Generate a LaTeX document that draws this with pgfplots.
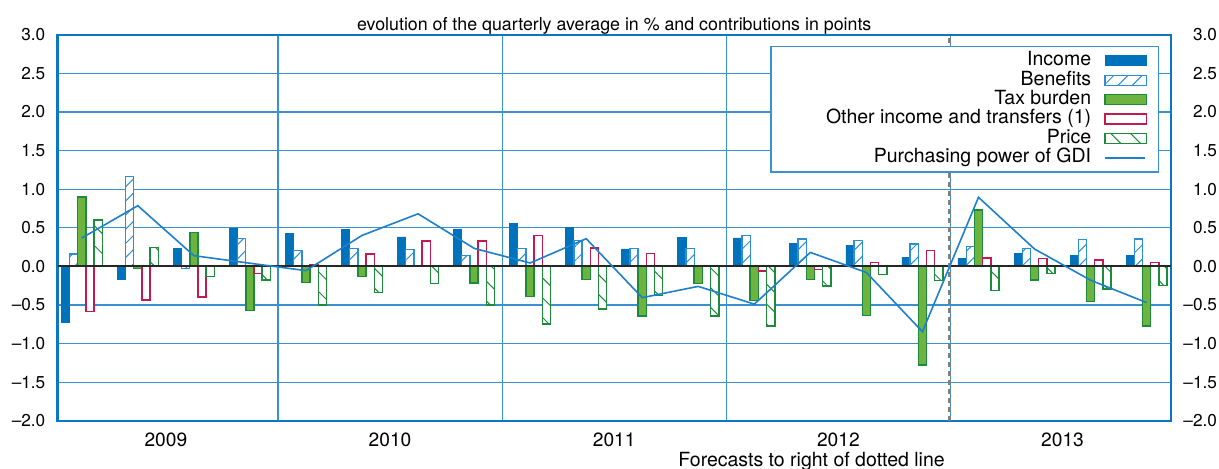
\documentclass[border=0pt]{standalone}
\usepackage{fontspec}
\setmainfont{TeX Gyre Heros}
\usepackage{pgfplots}
\pgfplotsset{compat=1.18}
\usepackage{pgfplotstable}
\usetikzlibrary{patterns.meta}

\definecolor{incblue}{HTML}{0071BB}
\definecolor{benblue}{HTML}{2D8ED8}
\definecolor{taxfill}{HTML}{6CB33F}
\definecolor{taxdraw}{HTML}{1D8A3C}
\definecolor{othred}{HTML}{C21A4E}
\definecolor{pricegreen}{HTML}{1D8A3C}
\definecolor{gdiline}{HTML}{1E7FCB}
\definecolor{gridblue}{HTML}{3B90D2}
\definecolor{axisblue}{HTML}{0A78C0}

% quarters 0..19 = 2009Q1..2013Q4
\pgfplotstableread{
q inc ben tax oth pri gdi
0 -0.725 0.160 0.900 -0.587 0.600 0.367
1 -0.170 1.160 -0.030 -0.436 0.246 0.785
2 0.237 -0.030 0.440 -0.397 -0.130 0.138
3 0.497 0.358 -0.570 -0.090 -0.180 0.040
4 0.420 0.207 -0.207 0.026 -0.500 -0.056
5 0.475 0.230 -0.134 0.160 -0.337 0.400
6 0.380 0.220 0.000 0.330 -0.220 0.680
7 0.484 0.138 -0.216 0.330 -0.500 0.233
8 0.557 0.233 -0.390 0.400 -0.747 0.043
9 0.505 0.337 -0.168 0.240 -0.553 0.358
10 0.225 0.233 -0.643 0.164 -0.376 -0.406
11 0.370 0.233 -0.224 0.000 -0.643 -0.260
12 0.367 0.400 -0.440 -0.060 -0.770 -0.490
13 0.294 0.354 -0.173 -0.043 -0.255 0.180
14 0.276 0.337 -0.640 0.052 -0.104 -0.080
15 0.120 0.290 -1.278 0.207 -0.186 -0.847
16 0.100 0.260 0.730 0.110 -0.315 0.894
17 0.163 0.228 -0.178 0.100 -0.090 0.224
18 0.138 0.350 -0.453 0.082 -0.294 -0.180
19 0.138 0.354 -0.770 0.047 -0.250 -0.470
}\data

\pgfplotsset{
  barleg/.style={legend image code/.code={\draw[##1] (0pt,-2.5pt) rectangle (20.8pt,2.5pt);}},
  lineleg/.style={legend image code/.code={\draw[##1] (0pt,0pt) -- (20pt,0pt);}},
  bar/.style={ybar, bar width=0.1463, bar shift=#1, barleg},
  yl/.style={yticklabels={–2.0,–1.5,–1.0,–0.5,0.0,0.5,1.0,1.5,2.0,2.5,3.0}},
}

\begin{document}
\begin{tikzpicture}
\useasboundingbox (-28.85pt,-23.65pt) rectangle (580.65pt,210.35pt);
\begin{axis}[
  at={(0,0)}, anchor=south west,
  scale only axis, width=556.5pt, height=193pt,
  xmin=-0.43, xmax=19.43, ymin=-2, ymax=3,
  clip mode=individual,
  ytick={-2,-1.5,...,3}, yl,
  xtick={1.5,5.5,9.5,13.5,17.5},
  xticklabels={2009,2010,2011,2012,2013},
  minor xtick={3.5,7.5,11.5,15.5},
  xminorgrids, ymajorgrids,
  grid style={draw=gridblue, line width=0.6pt},
  minor grid style={draw=gridblue, line width=0.6pt},
  tick style={draw=none},
  axis line style={draw=axisblue, line width=1.2pt},
  yticklabel style={font=\fontsize{8.6}{10}\selectfont, inner xsep=0pt, xshift=-6pt},
  xticklabel style={font=\fontsize{9.6}{11}\selectfont, anchor=base, yshift=-13pt},
  legend cell align=right,
  legend plot pos=right,
  legend style={at={(0.9895,0.9707)}, anchor=north east,
    draw=gridblue, line width=0.7pt, fill=white,
    font=\fontsize{9.75}{10}\selectfont,
    inner xsep=5.5pt, inner ysep=2.2pt,
    row sep=0pt, column sep=4.5pt,
    nodes={inner ysep=0pt, inner xsep=2pt, text height=7.3pt, text depth=2.4pt}},
]
\addplot[bar=-0.2926, fill=incblue, draw=incblue, line width=0.4pt] table[x=q,y=inc] {\data};
\addlegendentry{Income}
\addplot[bar=-0.1463, fill=white, draw=benblue, line width=0.65pt, pattern color=benblue,
  postaction={pattern={Lines[angle=45,distance=5pt,line width=0.5pt]}}] table[x=q,y=ben] {\data};
\addlegendentry{Benefits}
\addplot[bar=0, fill=taxfill, draw=taxdraw, line width=0.75pt] table[x=q,y=tax] {\data};
\addlegendentry{Tax burden}
\addplot[bar=0.1463, fill=white, draw=othred, line width=0.75pt] table[x=q,y=oth] {\data};
\addlegendentry{\hspace*{20pt}Other income and transfers (1)}
\addplot[bar=0.2926, fill=white, draw=pricegreen, line width=0.75pt, pattern color=pricegreen,
  postaction={pattern={Lines[angle=-45,distance=7pt,line width=0.5pt]}}] table[x=q,y=pri] {\data};
\addlegendentry{Price}
\draw[black!85, line width=1pt] (axis cs:-0.43,0) -- (axis cs:19.43,0);
\draw[gray, line width=1.2pt, dash pattern=on 2.5pt off 2pt] (axis cs:15.48,-2) -- (axis cs:15.48,3);
\addplot[gdiline, line width=0.8pt, mark=none, lineleg] table[x=q,y=gdi] {\data};
\addlegendentry{Purchasing power of GDI}
\node[anchor=base, font=\fontsize{8.9}{10}\selectfont] at (rel axis cs:0.5,1) [yshift=2.35pt]
  {evolution of the quarterly average in \% and contributions in points};
\node[anchor=base, font=\fontsize{9.75}{11}\selectfont] at (rel axis cs:0.6773,0) [yshift=-22.65pt]
  {Forecasts to right of dotted line};
\end{axis}
\begin{axis}[
  at={(0,0)}, anchor=south west,
  scale only axis, width=556.5pt, height=193pt,
  xmin=-0.43, xmax=19.43, ymin=-2, ymax=3,
  hide x axis, axis y line*=right,
  y axis line style={draw=none},
  ytick={-2,-1.5,...,3}, yl,
  tick style={draw=none},
  yticklabel style={font=\fontsize{8.6}{10}\selectfont, anchor=east, inner xsep=0pt, xshift=23.3pt},
]
\addplot[draw=none] coordinates {(0,0)};
\end{axis}
\end{tikzpicture}
\end{document}
